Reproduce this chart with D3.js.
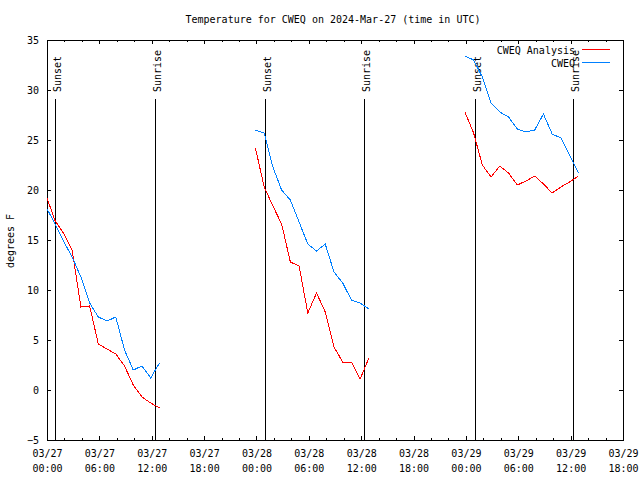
<!DOCTYPE html>
<html>
<head>
<meta charset="utf-8">
<script src="https://cdn.jsdelivr.net/npm/d3@7"></script>
<style>
  html, body { margin: 0; padding: 0; background: #fff; }
  svg { display: block; }
  text { font-family: "DejaVu Sans Mono", monospace; font-size: 10px; fill: #000; }
</style>
</head>
<body>
<svg id="chart" width="640" height="480"></svg>
<script>
// ---- data ----
const titleText = "Temperature for CWEQ on 2024-Mar-27 (time in UTC)";
const yLabel = "degrees F";
const seriesNames = ["CWEQ Analysis", "CWEQ"];
const seriesColors = ["#ff0000", "#0080ff"];

const seg1Times = ["2024-03-26 23:53","2024-03-27 00:53","2024-03-27 01:53","2024-03-27 02:53","2024-03-27 03:53","2024-03-27 04:53","2024-03-27 05:53","2024-03-27 06:53","2024-03-27 07:53","2024-03-27 08:53","2024-03-27 09:53","2024-03-27 10:53","2024-03-27 11:53","2024-03-27 12:53"];
const seg1Analysis = [19.5, 17.0, 15.7, 14.0, 8.3, 8.4, 4.6, 4.1, 3.6, 2.4, 0.5, -0.7, -1.3, -1.8];
const seg1Obs      = [18.3, 16.7, 14.9, 13.3, 11.3, 8.7, 7.3, 6.9, 7.3, 4.0, 2.0, 2.4, 1.2, 2.7];

const seg2Times = ["2024-03-27 23:53","2024-03-28 00:53","2024-03-28 01:53","2024-03-28 02:53","2024-03-28 03:53","2024-03-28 04:53","2024-03-28 05:53","2024-03-28 06:53","2024-03-28 07:53","2024-03-28 08:53","2024-03-28 09:53","2024-03-28 10:53","2024-03-28 11:53","2024-03-28 12:53"];
const seg2Analysis = [24.2, 20.3, 18.4, 16.6, 12.8, 12.4, 7.7, 9.7, 7.8, 4.3, 2.8, 2.8, 1.1, 3.2];
const seg2Obs      = [26.0, 25.7, 22.3, 20.0, 19.0, 16.8, 14.6, 13.9, 14.6, 11.8, 10.7, 9.0, 8.7, 8.1];

const seg3Times = ["2024-03-28 23:53","2024-03-29 00:53","2024-03-29 01:53","2024-03-29 02:53","2024-03-29 03:53","2024-03-29 04:53","2024-03-29 05:53","2024-03-29 06:53","2024-03-29 07:53","2024-03-29 08:53","2024-03-29 09:53","2024-03-29 10:53","2024-03-29 11:53","2024-03-29 12:53"];
const seg3Analysis = [27.8, 25.7, 22.5, 21.3, 22.4, 21.7, 20.5, 20.9, 21.4, 20.6, 19.7, 20.3, 20.8, 21.4];
const seg3Obs      = [33.4, 33.0, 31.3, 28.7, 27.8, 27.3, 26.1, 25.8, 26.0, 27.6, 25.6, 25.2, 23.5, 21.7];

const sunEvents = [
  ["2024-03-27 00:56", "Sunset"], ["2024-03-27 12:23", "Sunrise"],
  ["2024-03-28 00:58", "Sunset"], ["2024-03-28 12:21", "Sunrise"],
  ["2024-03-29 01:00", "Sunset"], ["2024-03-29 12:19", "Sunrise"]
];

const xStart = "2024-03-27 00:00", xEnd = "2024-03-29 18:00";
const yTicks = [-5, 0, 5, 10, 15, 20, 25, 30, 35];

// ---- chart ----
const parse = d3.utcParse("%Y-%m-%d %H:%M");
const svg = d3.select("#chart");
const L = 47, R = 623, T = 40, B = 440;

const x = d3.scaleUtc().domain([parse(xStart), parse(xEnd)]).range([L, R]);
const y = d3.scaleLinear().domain([-5, 35]).range([B, T]);

const majorTicks = d3.utcHour.every(6).range(parse(xStart), d3.utcMinute.offset(parse(xEnd), 1));
const minorTicks = d3.utcHour.every(2).range(parse(xStart), d3.utcMinute.offset(parse(xEnd), 1));

function clean(g) { g.select(".domain").remove(); g.selectAll("line").attr("stroke", "#000").attr("shape-rendering", "crispEdges"); }

// bottom minor + major
svg.append("g").attr("transform", `translate(0,${B})`)
  .call(d3.axisBottom(x).tickValues(minorTicks).tickSizeInner(-2).tickSizeOuter(0).tickFormat(""))
  .call(clean);
const bx = svg.append("g").attr("transform", `translate(0,${B})`)
  .call(d3.axisBottom(x).tickValues(majorTicks).tickSizeInner(-4).tickSizeOuter(0).tickFormat(""))
  .call(clean);
bx.selectAll(".tick").each(function(d) {
  const t = d3.select(this).append("text").attr("text-anchor", "middle");
  t.append("tspan").attr("x", 0).attr("y", 17).text(d3.utcFormat("%m/%d")(d));
  t.append("tspan").attr("x", 0).attr("y", 32).text(d3.utcFormat("%H:%M")(d));
});
// top mirror
svg.append("g").attr("transform", `translate(0,${T})`)
  .call(d3.axisTop(x).tickValues(minorTicks).tickSizeInner(-2).tickSizeOuter(0).tickFormat(""))
  .call(clean);
svg.append("g").attr("transform", `translate(0,${T})`)
  .call(d3.axisTop(x).tickValues(majorTicks).tickSizeInner(-4).tickSizeOuter(0).tickFormat(""))
  .call(clean);
// left / right
const ly = svg.append("g").attr("transform", `translate(${L},0)`)
  .call(d3.axisLeft(y).tickValues(yTicks).tickSizeInner(-4).tickSizeOuter(0).tickPadding(8))
  .call(clean);
ly.selectAll("text").attr("fill", "#000").style("font-family", "DejaVu Sans Mono").style("font-size", "10px");
svg.append("g").attr("transform", `translate(${R},0)`)
  .call(d3.axisRight(y).tickValues(yTicks).tickSizeInner(-4).tickSizeOuter(0).tickFormat(""))
  .call(clean);

// border
svg.append("rect").attr("x", L).attr("y", T).attr("width", R - L).attr("height", B - T)
  .attr("fill", "none").attr("stroke", "#000").attr("shape-rendering", "crispEdges");

// clip
svg.append("clipPath").attr("id", "plotclip").append("rect")
  .attr("x", L).attr("y", T).attr("width", R - L).attr("height", B - T);

// sun lines
sunEvents.forEach(([ts, label]) => {
  const xx = Math.round(x(parse(ts))) + 0.5;
  svg.append("line").attr("x1", xx).attr("x2", xx).attr("y1", 99).attr("y2", B)
    .attr("stroke", "#000").attr("stroke-width", 1.2).attr("shape-rendering", "crispEdges");
  svg.append("text").attr("transform", `translate(${xx + 5},92) rotate(-90)`)
    .attr("text-anchor", "start").text(label);
});

// series
const line = d3.line().x(d => x(d.t)).y(d => y(d.v));
const segments = [
  [seg1Times, seg1Analysis, seg1Obs],
  [seg2Times, seg2Analysis, seg2Obs],
  [seg3Times, seg3Analysis, seg3Obs]
];
const plotG = svg.append("g").attr("clip-path", "url(#plotclip)");
segments.forEach(([times, an, ob]) => {
  [an, ob].forEach((vals, si) => {
    const pts = times.map((ts, i) => ({ t: parse(ts), v: vals[i] }));
    plotG.append("path").datum(pts).attr("d", line)
      .attr("fill", "none").attr("stroke", seriesColors[si]).attr("stroke-width", 1)
      .attr("shape-rendering", "crispEdges");
  });
});

// legend
seriesNames.forEach((name, i) => {
  const yy = 49.5 + i * 13;
  svg.append("text").attr("x", 575).attr("y", yy + 4.5).attr("text-anchor", "end").text(name);
  svg.append("line").attr("x1", 582).attr("x2", 610).attr("y1", yy).attr("y2", yy)
    .attr("stroke", seriesColors[i]).attr("stroke-width", 1).attr("shape-rendering", "crispEdges");
});

// title, y label
svg.append("text").attr("x", 333).attr("y", 23).attr("text-anchor", "middle").text(titleText);
svg.append("text").attr("transform", "translate(14,241) rotate(-90)").attr("text-anchor", "middle").text(yLabel);
</script>
</body>
</html>
